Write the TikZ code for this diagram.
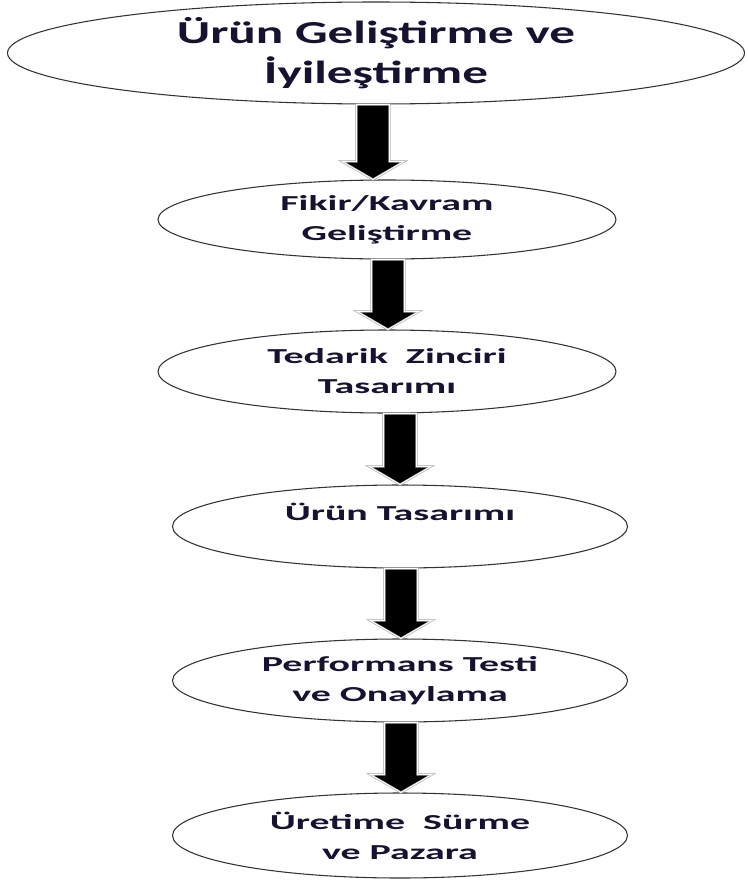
\documentclass[tikz,border=0pt]{standalone}
\usepackage{fontspec}
\newfontfamily\cfa[FakeStretch=1.6]{Carlito}
\newfontfamily\cfb[FakeStretch=1.87]{Carlito}
\usetikzlibrary{shapes.geometric,calc}
\definecolor{txt}{RGB}{22,18,48}
\tikzset{
  ell/.style={ellipse, draw=black!80, line width=0.8pt, inner sep=0pt, align=center,
    text=txt, font=\cfb\bfseries\fontsize{16}{22.5}\selectfont},
  barrow/.style={fill=black, draw=gray!70, line width=0.45pt, double=white, double distance=0.7pt}
}
\newcommand\blockarrow[3]{%
  \draw[barrow] let \p1=(#1 |- #2.south), \p2=(#1 |- #3.north) in
    (\x1-12.4pt,\y1) -- (\x1+12.4pt,\y1) -- (\x1+12.4pt,\y2+13.5pt) -- (\x1+23.25pt,\y2+13.5pt)
    -- (\x1,\y2) -- (\x1-23.25pt,\y2+13.5pt) -- (\x1-12.4pt,\y2+13.5pt) -- cycle;}
\begin{document}
\begin{tikzpicture}[x=0.75pt,y=-0.75pt]
\useasboundingbox (0,0) rectangle (747,881);
\node[ell, minimum width=552.75pt, minimum height=76.5pt, font=\cfa\bfseries\fontsize{24}{30}\selectfont] (e1) at (376,53) {Ürün Geliştirme ve\\İyileştirme};
\node[ell, minimum width=343.5pt, minimum height=59.25pt] (e2) at (387,219.5) {Fikir/Kavram\\Geliştirme};
\node[ell, minimum width=343.5pt, minimum height=62.25pt] (e3) at (387,371.5) {Tedarik\ \ Zinciri\\Tasarımı};
\node[ell, minimum width=341.25pt, minimum height=62.25pt] (e4) at (400,526.5) {Ürün Tasarımı\\\mbox{}};
\node[ell, minimum width=341.25pt, minimum height=62.25pt] (e5) at (400,680.5) {Performans Testi\\ve Onaylama};
\node[ell, minimum width=341.25pt, minimum height=63.75pt] (e6) at (400,835.5) {Üretime\ \ Sürme\\ve Pazara};
\coordinate (x1) at (373,0);
\coordinate (x2) at (388,0);
\coordinate (x3) at (400,0);
\coordinate (x4) at (401,0);
\coordinate (x5) at (401,0);
\blockarrow{x1}{e1}{e2}
\blockarrow{x2}{e2}{e3}
\blockarrow{x3}{e3}{e4}
\blockarrow{x4}{e4}{e5}
\blockarrow{x5}{e5}{e6}
\end{tikzpicture}
\end{document}
